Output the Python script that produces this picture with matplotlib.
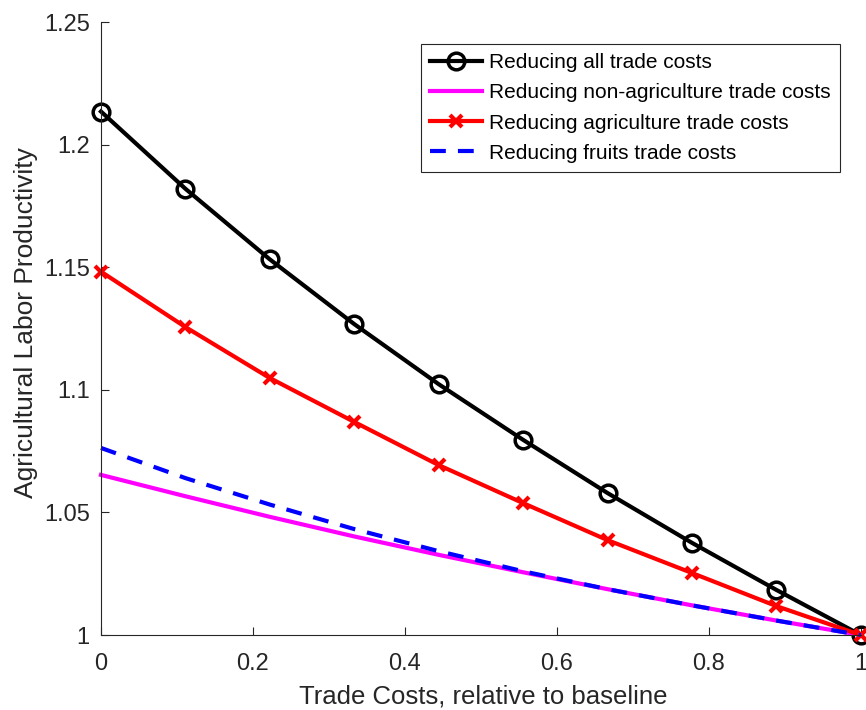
import matplotlib
matplotlib.use("Agg")
import matplotlib.pyplot as plt

plt.rcParams['font.family'] = ['Liberation Sans', 'DejaVu Sans']

# trade cost grid, relative to baseline
trade_costs = [0, 1/9, 2/9, 3/9, 4/9, 5/9, 6/9, 7/9, 8/9, 1]

# agricultural labor productivity under each scenario
all_costs = [1.2135, 1.1820, 1.1532, 1.1268, 1.1023, 1.0796, 1.0579,
             1.0376, 1.0184, 1.0]
non_agri_costs = [1.0653, 1.0566, 1.0482, 1.0402, 1.0327, 1.0256, 1.0187,
                  1.0121, 1.0059, 1.0]
agri_costs = [1.1482, 1.1256, 1.1048, 1.0869, 1.0693, 1.0538, 1.0387,
              1.0253, 1.0118, 1.0]
fruit_costs = [1.0763, 1.0640, 1.0532, 1.0432, 1.0342, 1.0260, 1.0187,
               1.0121, 1.0059, 1.0]

x_ticks = [0, 0.2, 0.4, 0.6, 0.8, 1]
x_tick_labels = ['0', '0.2', '0.4', '0.6', '0.8', '1']
y_ticks = [1, 1.05, 1.1, 1.15, 1.2, 1.25]
y_tick_labels = ['1', '1.05', '1.1', '1.15', '1.2', '1.25']


def main():
    fig = plt.figure(figsize=(8.66, 7.10), dpi=100)
    ax = fig.add_axes([0.1166, 0.1056, 0.8774, 0.8634])

    ax.plot(trade_costs, all_costs, color='black', lw=3, marker='o',
            ms=12, mfc='none', mew=2.5, clip_on=False,
            label='Reducing all trade costs')
    ax.plot(trade_costs, non_agri_costs, color='#ff00ff', lw=3,
            clip_on=False, label='Reducing non-agriculture trade costs')
    ax.plot(trade_costs, agri_costs, color='red', lw=3, marker='x',
            ms=8, mew=3, clip_on=False,
            label='Reducing agriculture trade costs')
    ax.plot(trade_costs, fruit_costs, color='blue', lw=3,
            dashes=(3.8, 2.9), clip_on=False,
            label='Reducing fruits trade costs')

    ax.set_xlim(0, 1)
    ax.set_ylim(1, 1.25)
    ax.set_xticks(x_ticks)
    ax.set_xticklabels(x_tick_labels)
    ax.set_yticks(y_ticks)
    ax.set_yticklabels(y_tick_labels)

    ax.spines['top'].set_visible(False)
    ax.spines['right'].set_visible(False)
    for side in ['left', 'bottom']:
        ax.spines[side].set_color('#262626')
        ax.spines[side].set_linewidth(0.8)
    ax.tick_params(direction='in', length=6, width=0.8, colors='#262626',
                   labelsize=17)
    ax.tick_params(axis='x', pad=13)
    ax.tick_params(axis='y', pad=8)

    ax.set_xlabel('Trade Costs, relative to baseline', fontsize=18.5,
                  color='#262626')
    ax.xaxis.set_label_coords(0.503, -0.081)
    ax.set_ylabel('Agricultural Labor Productivity', fontsize=19,
                  color='#262626')
    ax.yaxis.set_label_coords(-0.083, 0.509)

    leg = ax.legend(loc='upper right', bbox_to_anchor=(0.972, 0.964),
                    borderaxespad=0, fontsize=15, handlelength=2.5,
                    handletextpad=0.3, labelspacing=0.53, borderpad=0.45,
                    fancybox=False, framealpha=1, edgecolor='#262626')
    leg.get_frame().set_linewidth(0.8)

    fig.savefig('out.png', dpi=100)


if __name__ == "__main__":
    main()
